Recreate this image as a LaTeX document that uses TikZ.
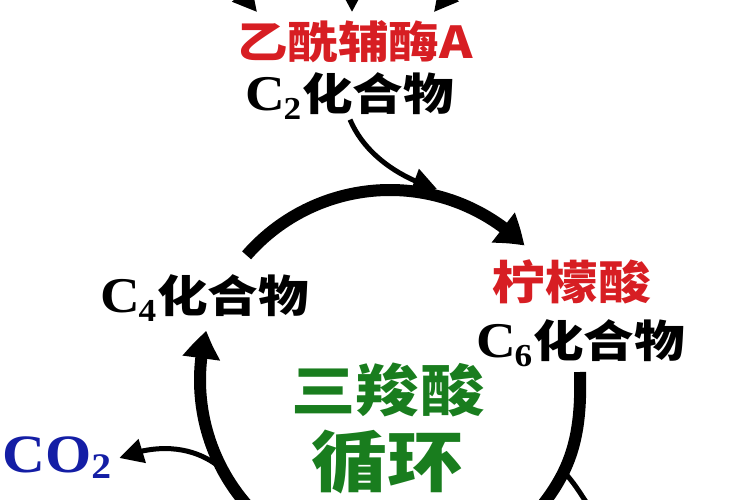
\documentclass[tikz,border=0pt]{standalone}
\usepackage{fontspec}
\setmainfont{Liberation Serif}
\newfontfamily\cjk{Noto Sans CJK SC Black}[FakeStretch=1.15]
\newfontfamily\tms{Liberation Serif}[FakeStretch=1.1]
\usetikzlibrary{arrows.meta,bending}
\definecolor{acred}{RGB}{215,30,35}
\definecolor{tcagreen}{RGB}{25,125,30}
\definecolor{co2blue}{RGB}{20,30,165}
% C_n compound label
\newcommand{\cpd}[1]{{\tms\bfseries\fontsize{50}{50}\selectfont C\kern-2pt\raisebox{-9pt}{\fontsize{32}{32}\selectfont #1}}\kern1pt{\cjk\fontsize{44}{50}\selectfont 化合物}}
\tikzset{
  cycarrow/.style={line width=12pt,-{Triangle[length=28pt,width=36pt,bend]}},
  cycline/.style={line width=12pt},
  thinarrow/.style={line width=5pt,-{Triangle[length=24pt,width=24pt]}},
  lbl/.style={inner sep=0pt}
}
\begin{document}
\begin{tikzpicture}[x=1pt,y=-1pt]
  \useasboundingbox (0,0) rectangle (750,500);
  \clip (0,0) rectangle (750,500);
  % labels
  \node[lbl,text=acred] (acoa) at (355,42) {\cjk\fontsize{44}{44}\selectfont 乙酰辅酶A};
  \node[lbl] (c2) at (350,96) {\cpd{2}};
  \node[lbl] (c4) at (205,298) {\cpd{4}};
  \node[lbl,text=acred] (cit) at (572,282) {\cjk\fontsize{46}{46}\selectfont 柠檬酸};
  \node[lbl] (c6) at (581,343) {\cpd{6}};
  \node[lbl,text=tcagreen] (tca) at (388,390) {\cjk\fontsize{56}{56}\selectfont 三羧酸};
  \node[lbl,text=tcagreen] (loop) at (387,462) {\cjk\fontsize{66}{66}\selectfont 循环};
  \node[lbl,text=co2blue,anchor=west] (co2) at (2,458) {\tms\bfseries\fontsize{54}{54}\selectfont CO\raisebox{-6pt}{\fontsize{36}{36}\selectfont 2}};
  % feeding arrows at the top
  \coordinate (t1) at (257,12);
  \coordinate (t2) at (352,12);
  \coordinate (t3) at (434,12);
  \draw[thinarrow] (222,-30) -- (t1);
  \draw[thinarrow] (352,-40) -- (t2);
  \draw[thinarrow] (468,-30) -- (t3);
  % the cycle
  \coordinate (cyc) at (390,380);
  \coordinate (join) at (437,189);
  \draw[thinarrow] (c2.south) .. controls (365,155) and (400,178) .. (join);
  \draw[cycarrow] (cyc) ++(-139:190) arc[start angle=-139,end angle=-45,radius=190];
  \draw[cycline] (580,372) .. controls (582,440) and (570,475) .. (530,520);
  \draw[line width=5pt] (566,474) .. controls (575,485) .. (590,508);
  \draw[cycarrow] (cyc) ++(135:190) arc[start angle=135,end angle=195,radius=190];
  \draw[thinarrow] (cyc) ++(152:190) .. controls (200,450) and (165,440) .. ([xshift=8pt]co2.east);
\end{tikzpicture}
\end{document}
